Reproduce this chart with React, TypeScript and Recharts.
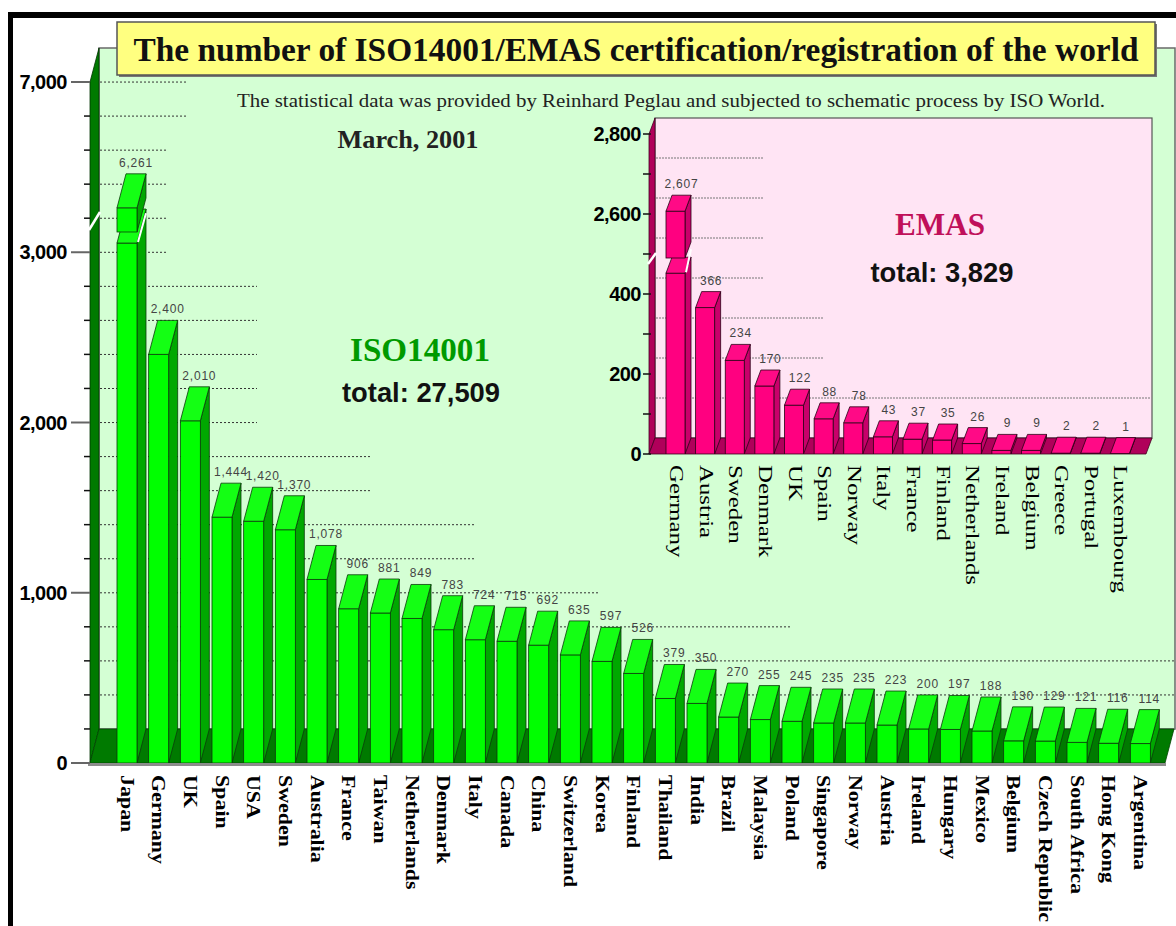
import React from 'react';
import { BarChart, Bar, XAxis, YAxis, CartesianGrid } from 'recharts';

// ---------- data ----------
const isoCountries = [
  'Japan', 'Germany', 'UK', 'Spain', 'USA', 'Sweden', 'Australia', 'France', 'Taiwan', 'Netherlands',
  'Denmark', 'Italy', 'Canada', 'China', 'Switzerland', 'Korea', 'Finland', 'Thailand', 'India', 'Brazil',
  'Malaysia', 'Poland', 'Singapore', 'Norway', 'Austria', 'Ireland', 'Hungary', 'Mexico', 'Belgium',
  'Czech Republic', 'South Africa', 'Hong Kong', 'Argentina',
];
const isoValues = [
  6261, 2400, 2010, 1444, 1420, 1370, 1078, 906, 881, 849,
  783, 724, 715, 692, 635, 597, 526, 379, 350, 270,
  255, 245, 235, 235, 223, 200, 197, 188, 130,
  129, 121, 116, 114,
];
const isoTickLabels = [0, 1000, 2000, 3000, 7000];

const emasCountries = [
  'Germany', 'Austria', 'Sweden', 'Denmark', 'UK', 'Spain', 'Norway', 'Italy', 'France', 'Finland',
  'Netherlands', 'Ireland', 'Belgium', 'Greece', 'Portugal', 'Luxembourg',
];
const emasValues = [2607, 366, 234, 170, 122, 88, 78, 43, 37, 35, 26, 9, 9, 2, 2, 1];
const emasTickLabels = [0, 200, 400, 2600, 2800];

// ---------- axis breaks (broken value axes) ----------
const ISO_CUT = 3100;   // values above this are shifted down by ISO_SHIFT
const ISO_SHIFT = 3000;
const EMAS_CUT = 500;
const EMAS_SHIFT = 2000;
const isoPlot = (v: number) => (v > ISO_CUT ? v - ISO_SHIFT : v);
const emasPlot = (v: number) => (v > EMAS_CUT ? v - EMAS_SHIFT : v);

const isoData = isoCountries.map((name, i) => ({
  name, value: isoValues[i], plot: isoPlot(isoValues[i]), broken: isoValues[i] > ISO_CUT,
}));
const emasData = emasCountries.map((name, i) => ({
  name, value: emasValues[i], plot: emasPlot(emasValues[i]), broken: emasValues[i] > EMAS_CUT,
}));

const isoAxisTicks = Array.from({ length: 21 }, (_, i) => i * 200);
const emasAxisTicks = Array.from({ length: 9 }, (_, i) => i * 100);

// ---------- layout ----------
const W = 1176;
const H = 926;
const SERIF = '"Liberation Serif", "Times New Roman", serif';
const SANS = '"Liberation Sans", Arial, sans-serif';

const MAIN = { zeroY: 763, topY: 82, axisX: 90, dx: 9, dy: 34, right: 1156 };
const INSET = { zeroY: 454, topY: 134, axisX: 649, dx: 6, dy: 16, right: 1135 };

const fmt = (v: number) => v.toLocaleString('en-US');

type Theme = {
  front: string; side: string; top: string; stroke: string;
  dx: number; dy: number; breakLow: number; breakHigh: number; label: string;
};

const mainTheme: Theme = {
  front: '#00ff00', side: '#00a800', top: '#14ff14', stroke: '#0b3b0b',
  dx: MAIN.dx, dy: MAIN.dy, breakLow: 3054, breakHigh: 3119, label: '#444',
};
const insetTheme: Theme = {
  front: '#ff0080', side: '#c8006a', top: '#ff0a86', stroke: '#2a0015',
  dx: INSET.dx, dy: INSET.dy, breakLow: 452, breakHigh: 490, label: '#444',
};

function box(x: number, yTop: number, yBot: number, w: number, t: Theme, key: string) {
  const { dx, dy } = t;
  return (
    <g key={key}>
      <polygon
        points={`${x + w},${yBot} ${x + w + dx},${yBot - dy} ${x + w + dx},${yTop - dy} ${x + w},${yTop}`}
        fill={t.side} stroke={t.stroke} strokeWidth={0.8}
      />
      <rect x={x} y={yTop} width={w} height={Math.max(0, yBot - yTop)} fill={t.front} stroke={t.stroke} strokeWidth={0.8} />
      <polygon
        points={`${x},${yTop} ${x + dx},${yTop - dy} ${x + w + dx},${yTop - dy} ${x + w},${yTop}`}
        fill={t.top} stroke={t.stroke} strokeWidth={0.8}
      />
    </g>
  );
}

const make3D = (t: Theme) => (props: any) => {
  const { x, y, width, height, payload } = props;
  if (x == null || y == null) return <g />;
  const base = y + height;
  const k = payload.plot > 0 ? height / payload.plot : 0;
  const yLo = base - t.breakLow * k;
  const yHi = base - t.breakHigh * k;
  return (
    <g>
      {payload.broken ? (
        <g>
          {box(x, yLo, base, width, t, 'lo')}
          {box(x, y, yHi, width, t, 'hi')}
          <line x1={x + width + 1} y1={yLo - 1} x2={x + width + t.dx} y2={yHi - t.dy * 0.55} stroke="#fff" strokeWidth={2} />
        </g>
      ) : (
        box(x, y, base, width, t, 'b')
      )}
      <text
        x={x + width / 2 + t.dx} y={y - t.dy - 7} textAnchor="middle"
        fontFamily={SANS} fontSize={12} fill={t.label} letterSpacing={0.8}
      >
        {fmt(payload.value)}
      </text>
    </g>
  );
};

const mainShape = make3D(mainTheme);
const insetShape = make3D(insetTheme);

// ---------- ticks ----------
const MainYTick = (props: any) => {
  const { y, payload } = props;
  const label = isoTickLabels.find((l) => isoPlot(l) === payload.value);
  const major = label !== undefined;
  return (
    <g>
      {major ? (
        <line x1={71} x2={MAIN.axisX} y1={y} y2={y} stroke="#666" strokeWidth={2} />
      ) : (
        <line x1={84} x2={MAIN.axisX} y1={y} y2={y} stroke="#111" strokeWidth={1.5} />
      )}
      {major && (
        <text x={67} y={y} textAnchor="end" dominantBaseline="central" fontFamily={SANS} fontWeight="bold" fontSize={20} fill="#000" letterSpacing={-0.5}>
          {fmt(label as number)}
        </text>
      )}
    </g>
  );
};

const InsetYTick = (props: any) => {
  const { y, payload } = props;
  const label = emasTickLabels.find((l) => emasPlot(l) === payload.value);
  return (
    <g>
      <line x1={INSET.axisX - 6} x2={INSET.axisX + 2} y1={y} y2={y} stroke="#111" strokeWidth={1.5} />
      {label !== undefined && (
        <text x={641} y={y} textAnchor="end" dominantBaseline="central" fontFamily={SANS} fontWeight="bold" fontSize={20} fill="#000" letterSpacing={-0.5}>
          {fmt(label)}
        </text>
      )}
    </g>
  );
};

const MainXTick = (props: any) => {
  const { x, payload } = props;
  return (
    <text
      transform={`translate(${x},${MAIN.zeroY + 12}) rotate(90) scale(1.22,1)`}
      textAnchor="start" dominantBaseline="central"
      fontFamily={SERIF} fontWeight="bold" fontSize={18} fill="#000"
    >
      {payload.value}
    </text>
  );
};

const InsetXTick = (props: any) => {
  const { x, payload } = props;
  return (
    <text
      transform={`translate(${x},${INSET.zeroY + 11}) rotate(90) scale(1.38,1)`}
      textAnchor="start" dominantBaseline="central"
      fontFamily={SERIF} fontSize={18} fill="#000"
    >
      {payload.value}
    </text>
  );
};

// ---------- grid on the back wall ----------
const mainGridEnd = (gy: number) => {
  if (gy < 135) return 188;
  if (gy < 270) return 167;
  if (gy < 440) return 257;
  if (gy < 505) return 370;
  if (gy < 575) return 475;
  if (gy < 610) return 600;
  if (gy < 645) return 790;
  return 1174;
};
const mainGridLine = (p: any) => {
  const gy = p.y1 - MAIN.dy;
  if (gy > MAIN.zeroY - MAIN.dy - 3 || gy < MAIN.topY - MAIN.dy + 3) return <g key={`mg${p.index}`} />;
  return (
    <line key={`mg${p.index}`} x1={MAIN.axisX + MAIN.dx + 1} x2={mainGridEnd(gy)} y1={gy} y2={gy}
      stroke="#333" strokeWidth={1} strokeDasharray="2 2" />
  );
};
const insetGridEnd = (gy: number) => {
  if (gy < 295) return 763;
  if (gy < 375) return 823;
  return 1151;
};
const insetGridLine = (p: any) => {
  const gy = p.y1 - INSET.dy;
  if (gy > INSET.zeroY - INSET.dy - 3 || gy < INSET.topY - INSET.dy + 3) return <g key={`ig${p.index}`} />;
  return (
    <line key={`ig${p.index}`} x1={INSET.axisX + INSET.dx + 1} x2={insetGridEnd(gy)} y1={gy} y2={gy}
      stroke="#777" strokeWidth={1} strokeDasharray="2 1" />
  );
};

const layer: React.CSSProperties = { position: 'absolute', left: 0, top: 0 };

export default function App() {
  const mWallX = MAIN.axisX + MAIN.dx;
  const mWallTop = MAIN.topY - MAIN.dy;
  const mBack = MAIN.zeroY - MAIN.dy;
  const iWallX = INSET.axisX + INSET.dx;
  const iWallTop = INSET.topY - INSET.dy;
  const iBack = INSET.zeroY - INSET.dy;

  return (
    <div style={{ position: 'absolute', left: 0, top: 0, width: W, height: H, background: '#fff', overflow: 'hidden' }}>
      {/* main background: frame, wall, floor, title and annotations */}
      <svg width={W} height={H} style={layer}>
        <rect x={8} y={12} width={W - 8} height={6} fill="#000" />
        <rect x={8} y={12} width={5} height={H - 12} fill="#000" />
        <rect x={mWallX} y={mWallTop} width={1175 - mWallX} height={mBack - mWallTop} fill="#d4ffd4" stroke="#6a6a6a" strokeWidth={1.5} />
        <polygon points={`${MAIN.axisX},${MAIN.zeroY} ${MAIN.axisX},${MAIN.topY} ${mWallX},${mWallTop} ${mWallX},${mBack}`} fill="#007a00" stroke="#003300" strokeWidth={0.8} />
        <line x1={MAIN.axisX - 1} y1={230} x2={mWallX + 1} y2={212} stroke="#fff" strokeWidth={2.5} />
        <polygon points={`${MAIN.axisX},${MAIN.zeroY} 1165,${MAIN.zeroY} 1174,${mBack} ${mWallX},${mBack}`} fill="#007a00" stroke="#004400" strokeWidth={0.8} />
        <line x1={88} y1={MAIN.zeroY + 1.5} x2={1166} y2={MAIN.zeroY + 1.5} stroke="#8c8c8c" strokeWidth={3} />

        <rect x={119} y={24} width={1038} height={53} fill="#777" />
        <rect x={117} y={22} width={1038} height={53} fill="#ffff80" stroke="#555" strokeWidth={1.5} />
        <text x={636} y={61} textAnchor="middle" fontFamily={SERIF} fontWeight="bold" fontSize={33} fill="#111" textLength={1005} lengthAdjust="spacingAndGlyphs">
          The number of ISO14001/EMAS certification/registration of the world
        </text>
        <text x={671} y={107} textAnchor="middle" fontFamily={SERIF} fontSize={19} fill="#222" textLength={868} lengthAdjust="spacingAndGlyphs">
          The statistical data was provided by Reinhard Peglau and subjected to schematic process by ISO World.
        </text>
        <text x={408} y={148} textAnchor="middle" fontFamily={SERIF} fontWeight="bold" fontSize={25} fill="#222" textLength={141} lengthAdjust="spacingAndGlyphs">
          March, 2001
        </text>
        <text x={420} y={361} textAnchor="middle" fontFamily={SERIF} fontWeight="bold" fontSize={33} fill="#009a00" textLength={140} lengthAdjust="spacingAndGlyphs">
          ISO14001
        </text>
        <text x={421} y={402} textAnchor="middle" fontFamily={SANS} fontWeight="bold" fontSize={27} fill="#111" textLength={158} lengthAdjust="spacingAndGlyphs">
          total: 27,509
        </text>
      </svg>

      {/* main ISO14001 chart */}
      <div style={layer}>
        <BarChart width={W} height={H} data={isoData} margin={{ top: MAIN.topY, right: W - MAIN.right, bottom: 3, left: 0 }} barSize={20}>
          <CartesianGrid vertical={false} horizontal={mainGridLine} />
          <XAxis dataKey="name" type="category" interval={0} height={160} axisLine={false} tickLine={false} tick={MainXTick} padding={{ left: 21, right: 0 }} />
          <YAxis type="number" domain={[0, 4000]} ticks={isoAxisTicks} interval={0} width={MAIN.axisX} axisLine={false} tickLine={false} tick={MainYTick} allowDataOverflow />
          <Bar dataKey="plot" shape={mainShape} isAnimationActive={false} />
        </BarChart>
      </div>

      {/* inset background */}
      <svg width={W} height={H} style={layer}>
        <rect x={iWallX} y={iWallTop} width={1152 - iWallX} height={iBack - iWallTop} fill="#ffe4f4" stroke="#555" strokeWidth={1.2} />
        <polygon points={`${INSET.axisX},${INSET.zeroY} ${INSET.axisX},${INSET.topY} ${iWallX},${iWallTop} ${iWallX},${iBack}`} fill="#b0005a" stroke="#400020" strokeWidth={0.8} />
        <line x1={INSET.axisX - 1} y1={264} x2={iWallX + 1} y2={253} stroke="#fff" strokeWidth={2.5} />
        <polygon points={`${INSET.axisX},${INSET.zeroY} 1146,${INSET.zeroY} 1152,${iBack} ${iWallX},${iBack}`} fill="#b0005a" stroke="#400020" strokeWidth={0.8} />
        <text x={940} y={235} textAnchor="middle" fontFamily={SERIF} fontWeight="bold" fontSize={32} fill="#c0105a" textLength={90} lengthAdjust="spacingAndGlyphs">
          EMAS
        </text>
        <text x={942} y={282} textAnchor="middle" fontFamily={SANS} fontWeight="bold" fontSize={27} fill="#111" textLength={143} lengthAdjust="spacingAndGlyphs">
          total: 3,829
        </text>
      </svg>

      {/* inset EMAS chart */}
      <div style={layer}>
        <BarChart width={W} height={H} data={emasData} margin={{ top: INSET.topY, right: W - INSET.right, bottom: H - INSET.zeroY - 150, left: 0 }} barSize={19}>
          <CartesianGrid vertical={false} horizontal={insetGridLine} />
          <XAxis dataKey="name" type="category" interval={0} height={150} axisLine={false} tickLine={false} tick={InsetXTick} padding={{ left: 12, right: 0 }} />
          <YAxis type="number" domain={[0, 800]} ticks={emasAxisTicks} interval={0} width={INSET.axisX} axisLine={false} tickLine={false} tick={InsetYTick} allowDataOverflow />
          <Bar dataKey="plot" shape={insetShape} isAnimationActive={false} />
        </BarChart>
      </div>
    </div>
  );
}
